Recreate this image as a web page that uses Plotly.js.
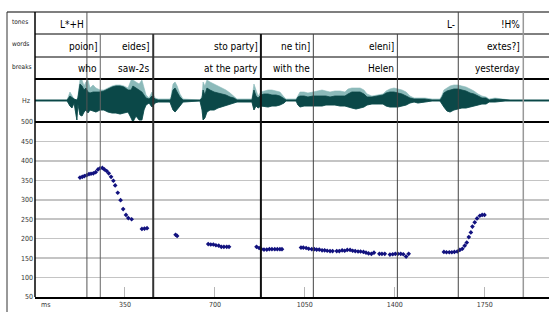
<!DOCTYPE html>
<html><head><meta charset="utf-8">
<script src="https://cdn.plot.ly/plotly-3.0.1.min.js"></script>
<style>html,body{margin:0;padding:0;background:#fff}#chart{width:549px;height:312px}</style>
</head><body><div id="chart"></div>
<script>
// ---------- data ----------
const pitchMs = [175,184,192,201,210,218,227,236,245,253,262,270,279,287,296,305,312,322,333,343,354,363,376,416,426,436,547,553,
  674,684,694,704,715,725,735,746,755,
  862,872,881,891,902,912,922,933,943,953,961,
  1035,1044,1055,1065,1077,1087,1096,1106,1117,1127,1137,1148,1158,1174,1184,1195,1205,1215,1226,1236,1246,1257,1267,1278,1288,1298,1309,1319,1340,1350,1361,1381,1392,1402,1412,1423,1433,1444,1454,
  1591,1601,1612,1622,1632,1643,1653,1663,1672,1680,1688,1696,1702,1711,1720,1731,1740,1749];
const pitchHz = [357,359,361,363,366,367,368,371,378,381,382,378,374,368,359,349,337,318,299,276,261,253,250,225,226,227,210,207,
  186,185,185,183,182,179,179,179,179,
  179,176,173,172,172,173,173,173,173,173,173,
  177,177,176,174,173,173,172,172,170,170,169,168,168,168,168,170,169,171,171,169,168,167,167,166,164,162,161,164,161,161,161,159,160,161,161,161,160,154,161,
  166,165,165,165,166,167,171,174,182,190,204,216,231,242,252,259,261,261];

const waveMs = [0,125,136,144,152,163,167,175,183,191,
  198,206,214,226,237,253,268,284,300,315,
  331,346,362,374,381,393,405,416,424,432,
  444,455,467,479,525,529,537,545,553,564,
  576,642,650,654,661,669,681,697,712,728,
  743,759,774,786,844,852,860,868,879,891,
  907,922,938,953,969,977,1016,1023,1031,1047,
  1062,1082,1101,1117,1132,1148,1167,1187,1206,1218,
  1233,1249,1265,1280,1292,1311,1335,1354,1366,1381,
  1397,1412,1428,1444,1459,1475,1490,1517,1545,1576,
  1584,1591,1603,1615,1630,1646,1661,1677,1693,1708,
  1724,1739,1755,1767,1790,1829,1848,2000];
const waveLight = [0.5,0.5,8.5,4.5,1.5,0.5,4.5,20.5,20.5,14.5,
  18.5,20.5,12.5,15.5,12.5,10.5,10.5,12.5,14.5,15.5,
  15.5,14.5,12.5,20.5,20.5,18.5,16.5,20.5,12.5,5.5,
  2.5,8.5,2.5,1.5,1.5,3.5,16.5,18.5,14.5,6.5,
  1.5,0.5,4.5,18.5,14.5,20.5,18.5,16.5,14.5,12.5,
  10.5,7.5,4.5,1.5,1.5,16.5,10.5,4.5,8.5,9.5,
  10.5,10.5,9.5,8.5,3.5,1.5,1.5,5.5,8.5,8.5,
  7.5,8.5,9.5,10.5,9.5,8.5,9.5,9.5,8.5,11.5,
  12.5,12.5,12.5,10.5,6.5,4.5,5.5,6.5,9.5,11.5,
  12.5,11.5,10.5,8.5,4.5,2.5,2.5,2.5,1.5,1.5,
  5.5,10.5,12.5,14.5,15.5,15.5,14.5,13.5,11.5,9.5,
  6.5,4.5,3.5,1.5,2.5,1.5,0.5,0.5];
const waveDark = [0.5,0.5,4.5,2.5,1.5,0.5,2.5,16.5,14.5,10.5,
  12.5,8.5,7.5,8.5,8.5,8.5,9.5,11.5,13.5,14.5,
  14.5,13.5,10.5,10.5,14.5,12.5,10.5,8.5,5.5,2.5,
  1.5,4.5,1.5,0.5,0.5,1.5,10.5,12.5,8.5,3.5,
  0.5,0.5,2.5,10.5,5.5,12.5,10.5,8.5,7.5,6.5,
  5.5,3.5,2.5,0.5,0.5,10.5,4.5,2.5,5.5,6.5,
  6.5,5.5,5.5,4.5,1.5,0.5,0.5,3.5,4.5,4.5,
  3.5,4.5,4.5,4.5,4.5,3.5,4.5,4.5,4.5,6.5,
  8.5,8.5,8.5,6.5,3.5,3.5,4.5,5.5,7.5,8.5,
  8.5,7.5,6.5,4.5,2.5,1.5,1.5,1.5,0.5,0.5,
  3.5,7.5,9.5,10.5,11.5,11.5,10.5,9.5,7.5,6.5,
  4.5,2.5,2.5,0.5,1.5,0.5,0.5,0.5];
const waveLow = [-0.5,-0.5,-5.5,-7.5,-2.5,-19.5,-3.5,-14.5,-15.5,-11.5,
  -9.5,-12.5,-9.5,-10.5,-11.5,-9.5,-9.5,-11.5,-12.5,-12.5,
  -13.5,-12.5,-11.5,-17.5,-21.5,-15.5,-19.5,-19.5,-9.5,-4.5,
  -2.5,-6.5,-2.5,-1.5,-1.5,-3.5,-9.5,-11.5,-9.5,-5.5,
  -1.5,-0.5,-9.5,-19.5,-17.5,-11.5,-9.5,-9.5,-7.5,-6.5,
  -5.5,-3.5,-2.5,-1.5,-1.5,-9.5,-5.5,-7.5,-5.5,-5.5,
  -6.5,-5.5,-5.5,-4.5,-2.5,-0.5,-0.5,-4.5,-6.5,-5.5,
  -5.5,-5.5,-5.5,-5.5,-4.5,-4.5,-4.5,-5.5,-5.5,-6.5,
  -7.5,-8.5,-7.5,-6.5,-4.5,-3.5,-3.5,-3.5,-5.5,-6.5,
  -6.5,-6.5,-5.5,-4.5,-2.5,-1.5,-2.5,-1.5,-0.5,-0.5,
  -3.5,-6.5,-10.5,-11.5,-9.5,-8.5,-7.5,-7.5,-6.5,-5.5,
  -4.5,-3.5,-3.5,-1.5,-1.5,-0.5,-0.5,-0.5];

const toneTimes = [202,1647,1900];
const toneLabels = ["L*+H","L-","!H%"];
const wordTimes = [254,460,879,1083,1410,1900];
const wordLabels = ["poion]","eides]","sto party]","ne tin]","eleni]","extes?]"];
const breakLabels = ["who","saw-2s","at the party","with the","Helen","yesterday"];
const tierNames = ["tones","words","breaks"];
const xTicks = [350,700,1050,1400,1750];
const yTicks = [50,100,150,200,250,300,350,400,450,500];

// ---------- layout helpers (pixel -> paper) ----------
const H = 312, T = 12, B = 15, L = 35, W = 549;
const PH = H - T - B, PW = W - L;
const py = p => 1 - (p - T) / PH;
const px = p => (p - L) / PW;

const FAM = "DejaVu Sans Condensed, Liberation Sans Narrow, DejaVu Sans";
const tierFont = () => ({family: FAM, size: 10, color: "#000000"});
const smallFont = () => ({family: FAM, size: 7, color: "#333333"});

const rev = a => a.slice().reverse();
const traces = [
  {x: waveMs.concat(rev(waveMs)), y: waveLight.concat(rev(waveLow)), xaxis: "x", yaxis: "y2",
   type: "scatter", mode: "lines", fill: "toself", fillcolor: "#8cbaba",
   line: {color: "#8cbaba", width: 0.6}, hoverinfo: "skip"},
  {x: waveMs.concat(rev(waveMs)), y: waveDark.concat(rev(waveLow)), xaxis: "x", yaxis: "y2",
   type: "scatter", mode: "lines", fill: "toself", fillcolor: "#0b4848",
   line: {color: "#0b4848", width: 0.8}, hoverinfo: "skip"},
  {x: pitchMs, y: pitchHz, xaxis: "x", yaxis: "y", type: "scatter", mode: "markers",
   marker: {symbol: "diamond", size: 3.6, color: "#12127f", line: {width: 0}}}
];

const shapes = [];
const hline = (yp, w, x0p) => shapes.push({type: "line", xref: "paper", yref: "paper",
  x0: x0p === undefined ? 0 : x0p, x1: 1, y0: yp, y1: yp, line: {color: "#000", width: w}});
hline(py(12), 1.2, px(7));
hline(py(34), 1);
hline(py(57), 1);
hline(py(79), 2);
hline(py(122), 2);
shapes.push({type: "line", xref: "paper", yref: "paper", x0: 0, x1: 0, y0: 0, y1: 1, line: {color: "#000", width: 1.5}});
shapes.push({type: "line", xref: "paper", yref: "paper", x0: px(7), x1: px(7), y0: py(312), y1: 1, line: {color: "#333", width: 1}});

const toneStyle = [{c: "#555", w: 1}, {c: "#444", w: 1}, {c: "#999", w: 1.5}];
toneTimes.forEach((t, i) => shapes.push({type: "line", xref: "x", yref: "paper", x0: t, x1: t, y0: 0, y1: 1,
  line: {color: toneStyle[i].c, width: toneStyle[i].w}}));
const wordStyle = [{c: "#666", w: 1}, {c: "#333", w: 2}, {c: "#111", w: 2}, {c: "#444", w: 1}, {c: "#444", w: 1}, null];
wordTimes.forEach((t, i) => { if (!wordStyle[i]) return;
  shapes.push({type: "line", xref: "x", yref: "paper", x0: t, x1: t, y0: 0, y1: py(34),
  line: {color: wordStyle[i].c, width: wordStyle[i].w}}); });

const annotations = [];
toneTimes.forEach((t, i) => annotations.push({xref: "x", yref: "paper", x: t, y: py(24), xanchor: "right", yanchor: "middle",
  xshift: -1, text: toneLabels[i], showarrow: false, font: tierFont()}));
wordTimes.forEach((t, i) => annotations.push({xref: "x", yref: "paper", x: t, y: py(47), xanchor: "right", yanchor: "middle",
  xshift: -1, text: wordLabels[i], showarrow: false, font: tierFont()}));
wordTimes.forEach((t, i) => annotations.push({xref: "x", yref: "paper", x: t, y: py(69), xanchor: "right", yanchor: "middle",
  xshift: -1, text: breakLabels[i], showarrow: false, font: tierFont()}));
const tierY = [22, 44, 67];
tierNames.forEach((n, i) => annotations.push({xref: "paper", yref: "paper", x: px(10), y: py(tierY[i]), xanchor: "left", yanchor: "middle",
  text: n, showarrow: false, font: {family: FAM, size: 6.5, color: "#222222"}}));
annotations.push({xref: "paper", yref: "paper", x: px(33), y: py(101), xanchor: "right", yanchor: "middle",
  text: "Hz", showarrow: false, font: smallFont()});
annotations.push({xref: "paper", yref: "paper", x: px(39), y: py(305), xanchor: "left", yanchor: "middle",
  text: "ms", showarrow: false, font: smallFont()});

const layout = {
  width: W, height: H, margin: {l: L, r: 0, t: T, b: B, pad: 0},
  paper_bgcolor: "#fff", plot_bgcolor: "#fff", showlegend: false,
  font: {family: FAM, size: 7, color: "#333333"},
  xaxis: {range: [0, 2000], domain: [0, 1], anchor: "y", tickvals: xTicks, ticktext: xTicks.map(String),
    ticks: "inside", ticklen: 10, tickcolor: "#b5b5b5", tickwidth: 1, showline: true, linecolor: "#000", linewidth: 2,
    showgrid: false, zeroline: false, color: "#333333", tickfont: smallFont(), fixedrange: true},
  yaxis: {domain: [0, py(122)], range: [50, 500], tickvals: yTicks, ticktext: yTicks.map(String), anchor: "x",
    showgrid: true, gridcolor: "#c4c4c4", gridwidth: 1.5, showline: false, zeroline: false, ticks: "",
    color: "#333333", tickfont: smallFont(), ticklabelstandoff: 1, fixedrange: true},
  yaxis2: {domain: [py(122), py(79)], range: [-21.5, 21.5], anchor: "x", visible: false, fixedrange: true},
  shapes: shapes, annotations: annotations
};
Plotly.newPlot("chart", traces, layout, {displayModeBar: false, staticPlot: true});
</script>
</body></html>
